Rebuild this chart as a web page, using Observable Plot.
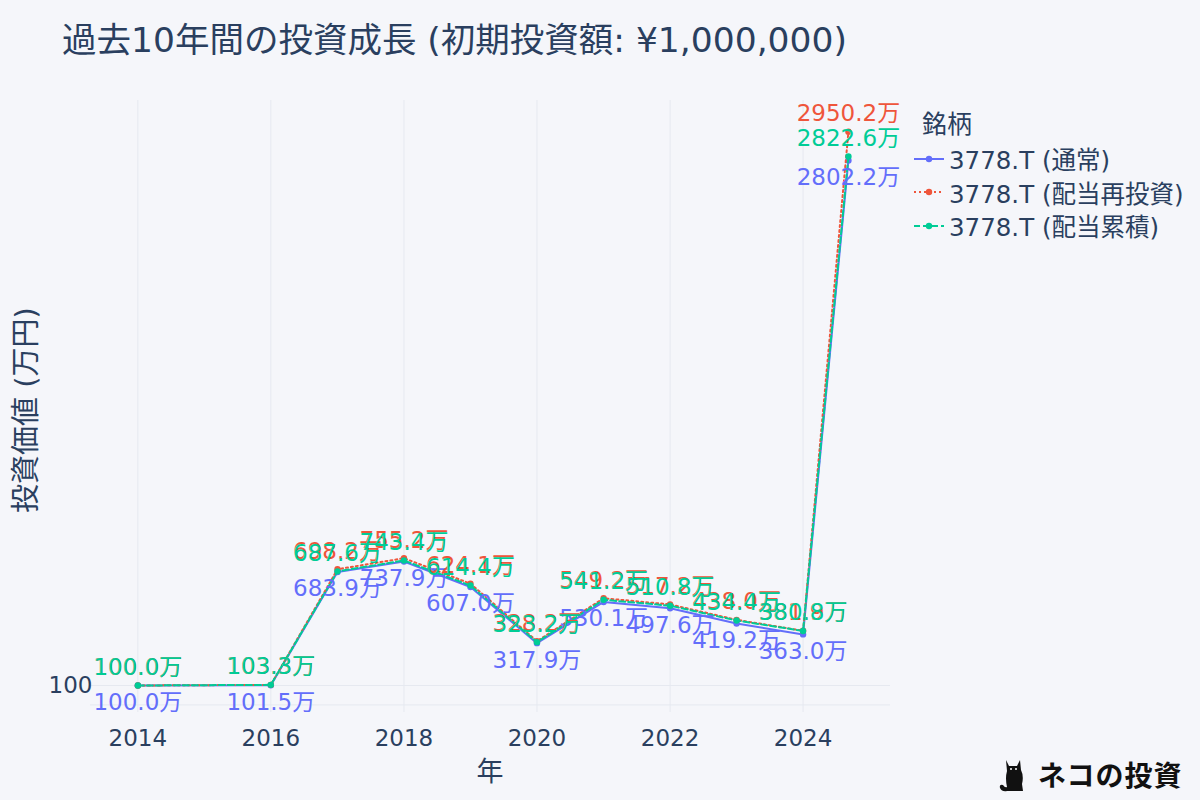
<!DOCTYPE html>
<html>
<head>
<meta charset="utf-8">
<script src="https://cdn.jsdelivr.net/npm/d3@7"></script>
<script src="https://cdn.jsdelivr.net/npm/@observablehq/plot@0.6"></script>
<style>
  html, body { margin: 0; padding: 0; background: #f5f6fa; }
  #wrap { position: relative; width: 1200px; height: 800px; background: #f5f6fa; overflow: hidden;
          font-family: "DejaVu Sans", "Noto Sans CJK JP", sans-serif; color: #2a3f5f; }
  #chart { position: absolute; left: 0; top: 0; }
  .title { position: absolute; left: 62px; top: 20px; font-size: 34.5px; line-height: 40px; white-space: nowrap; }
  .ylab { position: absolute; left: 26px; top: 410px; font-size: 29px; line-height: 34px; transform: translate(-50%, -50%) rotate(-90deg); white-space: nowrap; }
  .xlab { position: absolute; left: 490px; top: 772px; font-size: 27px; line-height: 32px; transform: translate(-50%, -50%); }
  .legend { position: absolute; left: 912px; top: 108px; }
  .legend .lt { font-size: 25px; line-height: 34px; margin-left: 10px; margin-bottom: 0px; }
  .legend .item { display: flex; align-items: center; height: 33.5px; font-size: 24.5px; white-space: nowrap; }
  .legend svg { margin-right: 1px; }
  .wm { position: absolute; left: 996px; top: 754px; display: flex; align-items: center; font-size: 28px; font-weight: bold; color: #111; letter-spacing: 1px; font-family: "Noto Sans CJK JP", sans-serif; }
</style>
</head>
<body>
<div id="wrap">
  <div id="chart"></div>
  <div class="title" id="title"></div>
  <div class="ylab" id="ylab"></div>
  <div class="xlab" id="xlab"></div>
  <div class="legend" id="legend"></div>
  <div class="wm" id="wm"></div>
</div>
<script>
// ---- data ----
const titleText = "過去10年間の投資成長 (初期投資額: ¥1,000,000)";
const xLabel = "年";
const yLabel = "投資価値 (万円)";
const legendTitle = "銘柄";
const watermark = "ネコの投資";
const dates = ["2014-01-01","2016-01-01","2017-01-01","2018-01-01","2019-01-01","2020-01-01","2021-01-01","2022-01-01","2023-01-01","2024-01-01","2024-09-06"];
const seriesNames = ["3778.T (通常)", "3778.T (配当再投資)", "3778.T (配当累積)"];
const normalValues   = [100.0, 101.5, 683.9, 737.9, 607.0, 317.9, 530.1, 497.6, 419.2, 363.0, 2802.2];
const reinvestValues = [100.0, 103.3, 698.2, 755.2, 624.1, 328.2, 549.2, 517.2, 438.0, 381.9, 2950.2];
const accumValues    = [100.0, 103.3, 687.6, 743.4, 614.4, 323.2, 541.2, 510.8, 434.4, 380.8, 2822.6];
const yTicks = [100];
const yGrid = [0, 100];
const xTickYears = [2014, 2016, 2018, 2020, 2022, 2024];

// ---- styles ----
const FONT = "DejaVu Sans, Noto Sans CJK JP, sans-serif";
const colors = ["#636efa", "#EF553B", "#00cc96"];
const dashes = [null, "2,3", "6,3"];
const parse = d3.utcParse("%Y-%m-%d");
const allSeries = [normalValues, reinvestValues, accumValues];
const rows = allSeries.map((vals, s) => dates.map((d, i) => ({date: parse(d), value: vals[i], series: seriesNames[s]})));
const xTickDates = xTickYears.map(y => new Date(Date.UTC(y, 0, 1)));

const marks = [
  Plot.gridX(xTickDates, {stroke: "#e6e9f0", strokeOpacity: 1, strokeWidth: 1}),
  Plot.gridY(yGrid, {stroke: "#e6e9f0", strokeOpacity: 1, strokeWidth: 1}),
  Plot.axisX(xTickDates, {tickSize: 0, tickPadding: 17, fontSize: 23, fill: "#2a3f5f", tickFormat: d3.utcFormat("%Y"), label: null}),
  Plot.axisY(yTicks, {tickSize: 0, tickPadding: -2, fontSize: 23, fill: "#2a3f5f", label: null, tickFormat: d => String(d)})
];
rows.forEach((r, s) => {
  marks.push(Plot.line(r, {x: "date", y: "value", stroke: colors[s], strokeWidth: 2, strokeDasharray: dashes[s]}));
  marks.push(Plot.dot(r, {x: "date", y: "value", fill: colors[s], r: 3.2}));
});
rows.forEach((r, s) => {
  marks.push(Plot.text(r, {x: "date", y: "value", text: d => d.value.toFixed(1) + "万", fill: colors[s], fontSize: 23,
    dy: s === 0 ? 17 : -18, fontFamily: FONT}));
});

const chart = Plot.plot({
  width: 1200, height: 800,
  marginLeft: 90, marginRight: 310, marginTop: 100, marginBottom: 88,
  style: {background: "transparent", fontFamily: FONT, overflow: "visible"},
  x: {type: "utc", domain: [new Date(Date.UTC(2013, 3, 16)), new Date(Date.UTC(2025, 3, 25))], axis: null},
  y: {type: "linear", domain: [-39, 3111], axis: null},
  marks
});
document.getElementById("chart").appendChild(chart);

document.getElementById("title").textContent = titleText;
document.getElementById("xlab").textContent = xLabel;
document.getElementById("ylab").textContent = yLabel;

// legend
const lg = document.getElementById("legend");
const lt = document.createElement("div"); lt.className = "lt"; lt.textContent = legendTitle; lg.appendChild(lt);
seriesNames.forEach((n, s) => {
  const it = document.createElement("div"); it.className = "item";
  it.innerHTML = `<svg width="36" height="14"><line x1="2" y1="7" x2="32" y2="7" stroke="${colors[s]}" stroke-width="2" ${dashes[s] ? `stroke-dasharray="${dashes[s]}"` : ""}/><circle cx="17" cy="7" r="3.2" fill="${colors[s]}"/></svg>`;
  const sp = document.createElement("span"); sp.textContent = n; it.appendChild(sp);
  lg.appendChild(it);
});

// watermark
const wm = document.getElementById("wm");
wm.innerHTML = `<svg width="38" height="40" viewBox="0 0 38 40"><path d="M10 6 L13 12 L21 12 L24 6 L25 16 Q28 22 26 30 L27 37 L11 37 Q6 38 4 34 Q3 30 7 31 Q9 34 11 33 Q9 24 11 17 Z" fill="#111"/><circle cx="15" cy="15" r="1" fill="#fff"/><circle cx="20" cy="15" r="1" fill="#fff"/></svg>`;
const ws = document.createElement("span"); ws.textContent = watermark; ws.style.marginLeft = "4px"; wm.appendChild(ws);
</script>
</body>
</html>
